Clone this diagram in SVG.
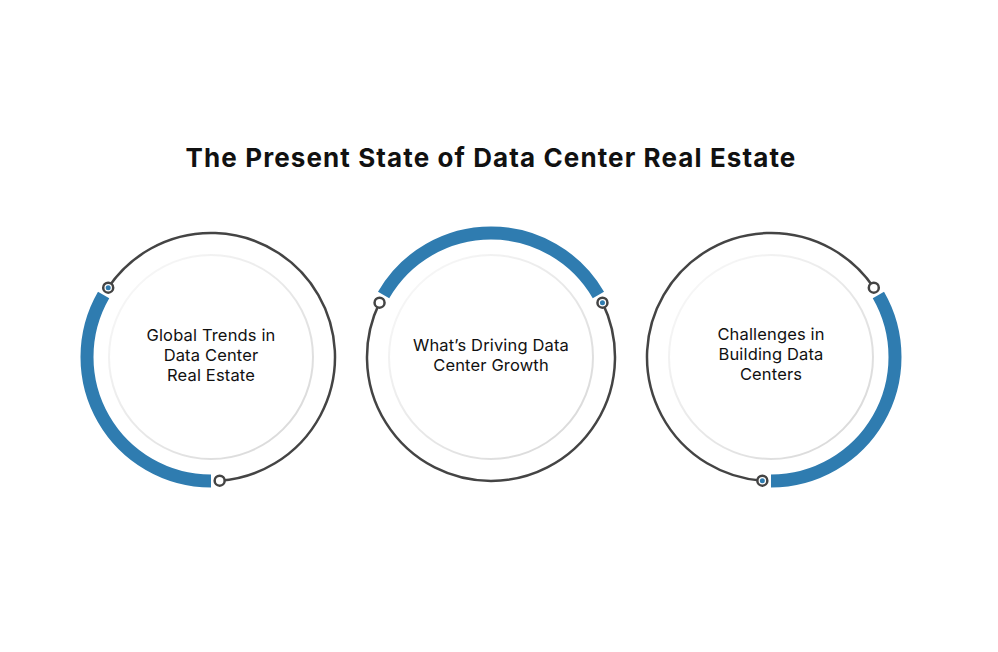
<svg xmlns="http://www.w3.org/2000/svg" width="998" height="652" viewBox="0 0 998 652">
  <defs>
    <linearGradient id="ringGrad" x1="0" y1="0" x2="1" y2="1">
      <stop offset="0" stop-color="#fbfbfb"/>
      <stop offset="1" stop-color="#d6d6d6"/>
    </linearGradient>
    <style>
      .title { font-family: Inter, "Liberation Sans", sans-serif; font-weight: 700; font-size: 26px; letter-spacing: 1.1px; fill: #111111; text-anchor: middle; }
      .label { font-family: Inter, "Liberation Sans", sans-serif; font-weight: 400; font-size: 16.5px; letter-spacing: 0.15px; fill: #111111; text-anchor: middle; }
      .inner { fill: #ffffff; stroke: url(#ringGrad); stroke-width: 2; }
      .track { fill: none; stroke: #444444; stroke-width: 2.5; }
      .progress { fill: none; stroke: #2f7cb0; stroke-width: 13; stroke-linecap: butt; }
      .dot { fill: #ffffff; stroke: #444444; stroke-width: 2.5; }
      .dotfill { fill: #2f7cb0; }
    </style>
  </defs>
  <rect width="998" height="652" fill="#ffffff"/>

  <text class="title" x="491" y="167">The Present State of Data Center Real Estate</text>

  <g id="connectors">
    <path class="track" d="M108.20 287.66 A124 124 0 1 1 219.65 480.70"/>
    <path class="track" d="M602.45 302.64 A124 124 0 1 1 379.55 302.64"/>
    <path class="track" d="M762.35 480.70 A124 124 0 1 1 873.80 287.66"/>
  </g>

  <g id="node1">
    <circle class="inner" cx="211" cy="357" r="102"/>
    <path class="progress" d="M211 481 A124 124 0 0 1 103.61 295"/>
    <circle class="dot" cx="108.20" cy="287.66" r="5"/>
    <circle class="dotfill" cx="108.20" cy="287.66" r="2.5"/>
    <circle class="dot" cx="219.65" cy="480.70" r="5"/>
    <text class="label" x="211" y="341">Global Trends in</text>
    <text class="label" x="211" y="361">Data Center</text>
    <text class="label" x="211" y="381">Real Estate</text>
  </g>

  <g id="node2">
    <circle class="inner" cx="491" cy="357" r="102"/>
    <path class="progress" d="M383.61 295 A124 124 0 0 1 598.39 295"/>
    <circle class="dot" cx="379.55" cy="302.64" r="5"/>
    <circle class="dot" cx="602.45" cy="302.64" r="5"/>
    <circle class="dotfill" cx="602.45" cy="302.64" r="2.5"/>
    <text class="label" x="491" y="351">What’s Driving Data</text>
    <text class="label" x="491" y="371">Center Growth</text>
  </g>

  <g id="node3">
    <circle class="inner" cx="771" cy="357" r="102"/>
    <path class="progress" d="M878.39 295 A124 124 0 0 1 771 481"/>
    <circle class="dot" cx="873.80" cy="287.66" r="5"/>
    <circle class="dot" cx="762.35" cy="480.70" r="5"/>
    <circle class="dotfill" cx="762.35" cy="480.70" r="2.5"/>
    <text class="label" x="771" y="340">Challenges in</text>
    <text class="label" x="771" y="360">Building Data</text>
    <text class="label" x="771" y="380">Centers</text>
  </g>
</svg>
